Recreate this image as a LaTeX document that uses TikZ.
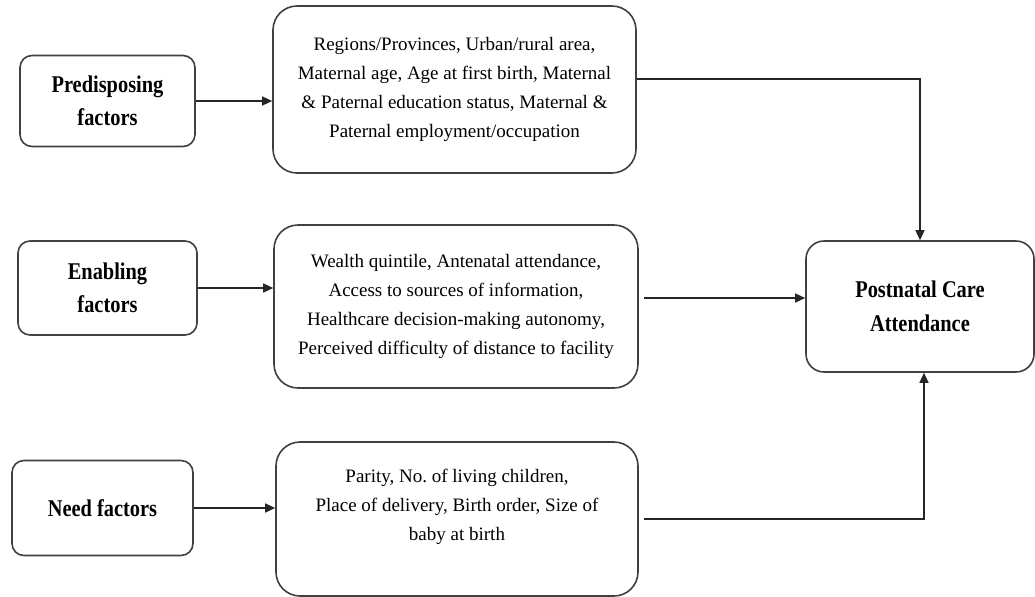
\documentclass[tikz,border=0pt]{standalone}
\usepackage{fontspec}
\setmainfont{Liberation Serif}
\newfontfamily\headfont[FakeStretch=0.85]{Liberation Serif}
\usetikzlibrary{arrows.meta}
\tikzstyle{factor}=[rectangle,rounded corners=6pt,draw=black!75,line width=0.8pt,inner sep=0pt,align=center,font=\headfont\bfseries\fontsize{12}{16.5}\selectfont]
\tikzstyle{detail}=[rectangle,rounded corners=12pt,draw=black!75,line width=0.8pt,inner sep=0pt,align=center,font=\fontsize{9.5}{14.5}\selectfont]
\tikzstyle{outcome}=[rectangle,rounded corners=9pt,draw=black!75,line width=0.8pt,inner sep=0pt,align=center,font=\headfont\bfseries\fontsize{12}{17}\selectfont]
\tikzstyle{link}=[-{Triangle[length=5pt,width=4.5pt]},line width=0.7pt,black!85]

\begin{document}
\begin{tikzpicture}[x=0.5pt,y=-0.5pt]
\useasboundingbox (0,0) rectangle (1035,596);
\node[factor,minimum width=87.5pt,minimum height=45.5pt] (pre) at (107.5,101) {Predisposing\\factors};
\node[factor,minimum width=89.5pt,minimum height=47pt] (ena) at (107.5,288) {Enabling\\factors};
\node[factor,minimum width=90.5pt,minimum height=47.5pt] (need) at (102.5,508) {Need factors};
\node[detail,minimum width=181.5pt,minimum height=83.5pt] (premid) at (454.5,89.5) {Regions/Provinces, Urban/rural area,\\Maternal age, Age at first birth, Maternal\\\& Paternal education status, Maternal \&\\Paternal employment/occupation};
\node[detail,minimum width=182pt,minimum height=81.5pt] (enamid) at (456,306.5) {Wealth quintile, Antenatal attendance,\\Access to sources of information,\\Healthcare decision-making autonomy,\\Perceived difficulty of distance to facility};
\node[detail,minimum width=181pt,minimum height=77pt] (needmid) at (457,519) {Parity, No.\ of living children,\\Place of delivery, Birth order, Size of\\baby at birth\\\mbox{}};
\node[outcome,minimum width=114pt,minimum height=65.5pt] (pca) at (920,306.5) {Postnatal Care\\Attendance};
% factors to their variables
\draw[link] (pre.east) -- (pre.east -| premid.west);
\draw[link] (ena.east) -- (ena.east -| enamid.west);
\draw[link] (need.east) -- (need.east -| needmid.west);
% variables to outcome
\draw[link] ([yshift=5.25pt]premid.east) -| (pca.north);
\draw[link,shorten <=2.5pt] ([yshift=4.25pt]enamid.east) -- ([yshift=4.25pt]pca.west);
\draw[link,shorten <=2.5pt] (needmid.east) -| ([xshift=2pt]pca.south);
\end{tikzpicture}
\end{document}
